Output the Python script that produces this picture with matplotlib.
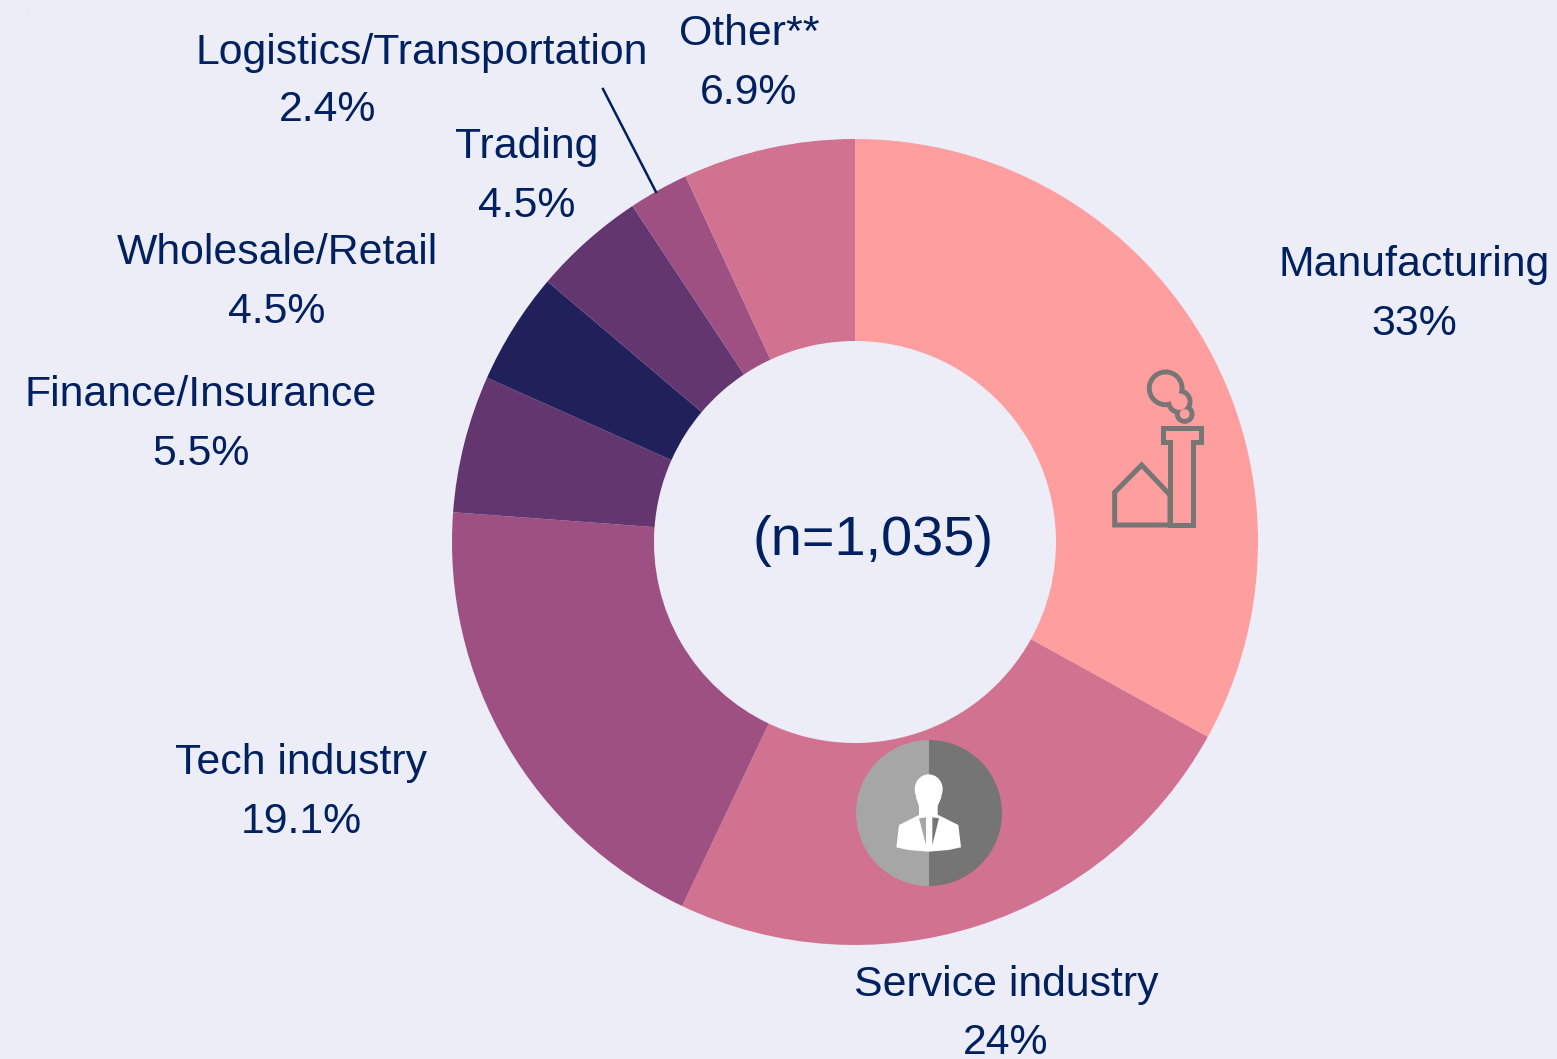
#!/usr/bin/env python3
"""Donut chart of respondents by industry, with two small icons."""
import matplotlib
matplotlib.use("Agg")
import matplotlib.pyplot as plt
from matplotlib.patches import Circle, Ellipse, Polygon, Wedge

plt.rcParams["font.family"] = ["Liberation Sans", "DejaVu Sans"]

W, H = 1557, 1059
BG = "#EDEDF8"
NAVY = "#002060"
GREY = "#767676"

# ─── data ─────────────────────────────────────────────────────────────────────
categories = ["Manufacturing", "Service industry", "Tech industry", "Finance/Insurance",
              "Wholesale/Retail", "Trading", "Logistics/Transportation", "Other**"]
values = [33, 24, 19.1, 5.5, 4.5, 4.5, 2.4, 6.9]
value_labels = ["33%", "24%", "19.1%", "5.5%", "4.5%", "4.5%", "2.4%", "6.9%"]
colors = ["#FF9E9F", "#D07290", "#9E5083", "#633670", "#20205B", "#633670", "#9E5083", "#D07290"]

# label placement in image pixels: (name x, name y, value x, value y), text baselines
LABEL_POS = [
    (1414, 276, 1414, 335),
    (1006, 996, 1006, 1054),
    (301, 774, 301, 833),
    (201, 406, 201, 465),
    (277, 264, 277, 323),
    (527, 158, 527, 217),
    (422, 64, 328, 121),
    (749, 45, 749, 104),
]


def Y(py):
    """Image pixel row to axes y."""
    return H - py


fig = plt.figure(figsize=(W / 100, H / 100), dpi=100, facecolor=BG)
ax = fig.add_axes([0, 0, 1, 1])
ax.set_facecolor(BG)

ax.pie(values, colors=colors, startangle=90, counterclock=False,
       center=(855, Y(542)), radius=403,
       wedgeprops=dict(width=202, linewidth=0))
ax.set_xlim(0, W)
ax.set_ylim(0, H)
ax.set_aspect("equal")
ax.axis("off")

# ─── labels ───────────────────────────────────────────────────────────────────
for name, val, (nx, ny, vx, vy) in zip(categories, value_labels, LABEL_POS):
    ax.text(nx, Y(ny), name, fontsize=30.8, color=NAVY, ha="center", va="baseline")
    ax.text(vx, Y(vy), val, fontsize=30.8, color=NAVY, ha="center", va="baseline")

ax.text(873, Y(555), "(n=1,035)", fontsize=40.2, color=NAVY, ha="center", va="baseline")
ax.plot([603, 656], [Y(89), Y(192)], color=NAVY, lw=1.8)
ax.text(27, Y(12), ".", fontsize=3, color=NAVY, ha="center", va="center")


def fx(zx, zy):
    return 1090 + zx / 3, Y(360 + zy / 3)


chimney = [(220, 205), (332, 205), (332, 247), (310, 247), (310, 495),
           (240, 495), (240, 247), (220, 247)]
house = [(74, 495), (240, 495), (240, 405), (155, 315), (74, 397)]
for outline in (chimney, house):
    ax.add_patch(Polygon([fx(*p) for p in outline], closed=True, fill=False,
                         edgecolor=GREY, lw=3.6, joinstyle="miter"))

smoke = [(227, 85, 49), (268, 125, 32), (284, 162, 22)]
for zx, zy, zr in smoke:
    ax.add_patch(Circle(fx(zx, zy), zr / 3, facecolor=GREY, edgecolor=GREY, lw=3.6))
for zx, zy, zr in smoke:
    ax.add_patch(Circle(fx(zx, zy), zr / 3 - 2.4, facecolor=colors[0], edgecolor="none"))


def px(zx, zy):
    return 845 + zx / 3, Y(730 + zy / 3)


cx, cy = px(252, 249)
ax.add_patch(Wedge((cx, cy), 73, 90, 270, facecolor="#A6A6A6", edgecolor="none"))
ax.add_patch(Wedge((cx, cy), 73, -90, 90, facecolor="#757575", edgecolor="none"))

ax.add_patch(Ellipse(px(251, 178), 84 / 3, 90 / 3, facecolor="white", edgecolor="none"))
neck = [(212, 200), (290, 200), (278, 228), (278, 258), (222, 258), (222, 228)]
body = [(154, 352), (162, 285), (222, 255), (280, 255),
        (340, 285), (348, 352), (310, 360), (250, 365), (190, 360)]
for shape in (neck, body):
    ax.add_patch(Polygon([px(*p) for p in shape], closed=True, facecolor="white", edgecolor="none"))
ax.add_patch(Polygon([px(*p) for p in [(222, 265), (243, 262), (243, 345)]], closed=True,
                     facecolor="#A6A6A6", edgecolor="none"))
ax.add_patch(Polygon([px(*p) for p in [(262, 262), (282, 265), (262, 345)]], closed=True,
                     facecolor="#757575", edgecolor="none"))

fig.savefig("out.png", dpi=100, facecolor=BG)
